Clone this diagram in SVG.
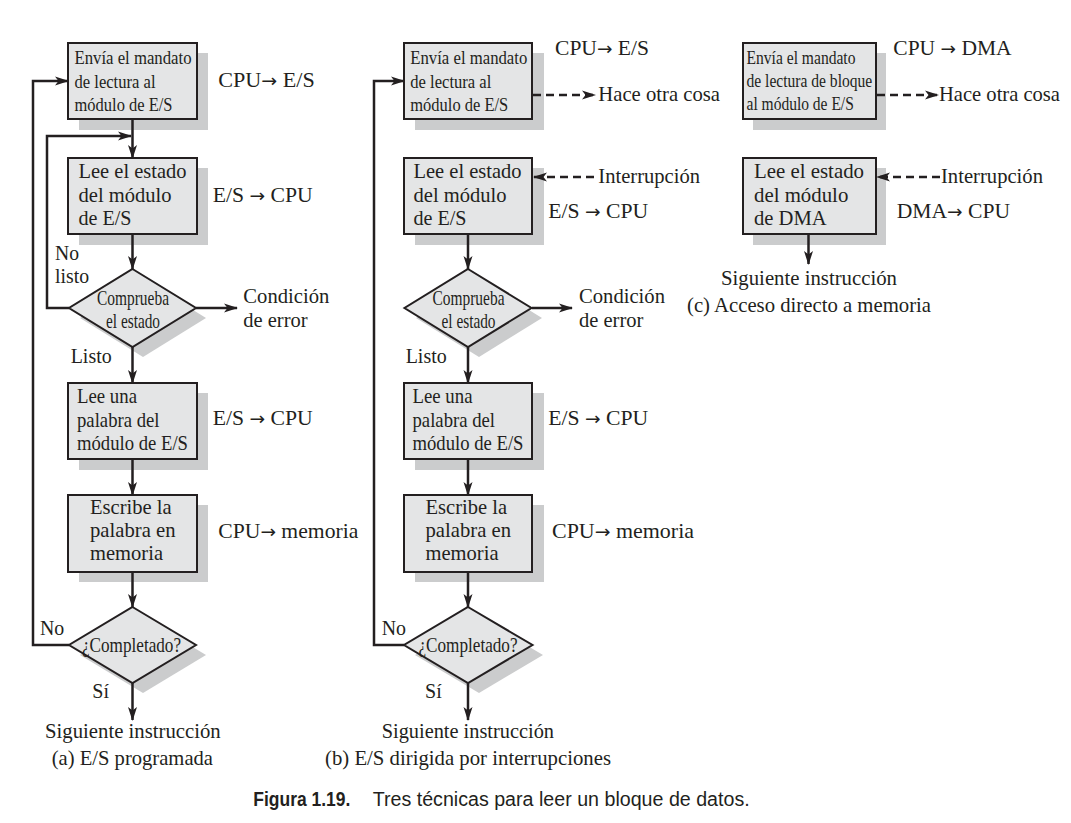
<svg xmlns="http://www.w3.org/2000/svg" width="1071" height="823" viewBox="0 0 1071 823">
<defs>
<style>
text{font-family:"Liberation Serif","Times New Roman",serif;fill:#231f20}
.t{font-size:21px}
.sm{font-size:20px}
.bx{font-size:19px}
.dm{font-size:21px}
.ar{font-family:"DejaVu Sans",sans-serif;font-size:18px}
.cap{font-family:"Liberation Sans",Arial,sans-serif;font-size:20px}
.capb{font-family:"Liberation Sans",Arial,sans-serif;font-size:20px;font-weight:bold}
.box{fill:#e4e5e6;stroke:#231f20;stroke-width:2}
.sh{fill:#cbcccd;stroke:none}
.ln{fill:none;stroke:#231f20;stroke-width:2.5}
.dash{fill:none;stroke:#231f20;stroke-width:2.5;stroke-dasharray:8 5}
</style>
<marker id="ah" markerWidth="14" markerHeight="10" refX="13" refY="5" orient="auto" markerUnits="userSpaceOnUse">
<path d="M0,0.5 L14,5 L0,9.5 L3.5,5 Z" fill="#231f20"/>
</marker>
</defs>
<rect width="1071" height="823" fill="#ffffff"/>

<g id="shadows">
<rect class="sh" x="79" y="53" width="129" height="77"/>
<rect class="sh" x="79" y="168" width="129" height="77"/>
<polygon class="sh" points="143,279 206,318 143,357 80,318"/>
<rect class="sh" x="79" y="393" width="129" height="77"/>
<rect class="sh" x="79" y="505" width="129" height="77"/>
<polygon class="sh" points="143,617 206,655 143,693 80,655"/>

<rect class="sh" x="415" y="53" width="129" height="77"/>
<rect class="sh" x="415" y="168" width="129" height="77"/>
<polygon class="sh" points="479,279 542,318 479,357 416,318"/>
<rect class="sh" x="415" y="393" width="129" height="77"/>
<rect class="sh" x="415" y="505" width="129" height="77"/>
<polygon class="sh" points="479,617 543,655 479,693 415,655"/>

<rect class="sh" x="753" y="53" width="133" height="77"/>
<rect class="sh" x="753" y="168" width="133" height="77"/>
</g>

<g id="connectors">
<line class="ln" x1="132.5" y1="119" x2="132.5" y2="158" marker-end="url(#ah)"/>
<polyline class="ln" points="69,308 47,308 47,136 131,136" marker-end="url(#ah)"/>
<line class="ln" x1="132.5" y1="234" x2="132.5" y2="269" marker-end="url(#ah)"/>
<line class="ln" x1="196" y1="308" x2="237" y2="308" marker-end="url(#ah)"/>
<line class="ln" x1="132.5" y1="347" x2="132.5" y2="383" marker-end="url(#ah)"/>
<line class="ln" x1="132.5" y1="459" x2="132.5" y2="495" marker-end="url(#ah)"/>
<line class="ln" x1="132.5" y1="572" x2="132.5" y2="607" marker-end="url(#ah)"/>
<polyline class="ln" points="69,645 33,645 33,81 68,81" marker-end="url(#ah)"/>
<line class="ln" x1="132.5" y1="683" x2="132.5" y2="720" marker-end="url(#ah)"/>

<line class="ln" x1="468" y1="234" x2="468" y2="269" marker-end="url(#ah)"/>
<line class="ln" x1="532" y1="308" x2="572" y2="308" marker-end="url(#ah)"/>
<line class="ln" x1="468" y1="347" x2="468" y2="383" marker-end="url(#ah)"/>
<line class="ln" x1="468" y1="459" x2="468" y2="495" marker-end="url(#ah)"/>
<line class="ln" x1="468" y1="572" x2="468" y2="607" marker-end="url(#ah)"/>
<polyline class="ln" points="404,645 374,645 374,81 404,81" marker-end="url(#ah)"/>
<line class="ln" x1="468" y1="683" x2="468" y2="720" marker-end="url(#ah)"/>
<line class="dash" x1="533" y1="95" x2="595" y2="95" marker-end="url(#ah)"/>
<line class="dash" x1="594" y1="177" x2="534" y2="177" marker-end="url(#ah)"/>

<line class="ln" x1="808.5" y1="234" x2="808.5" y2="264" marker-end="url(#ah)"/>
<line class="dash" x1="877" y1="95" x2="938" y2="95" marker-end="url(#ah)"/>
<line class="dash" x1="940" y1="177" x2="877" y2="177" marker-end="url(#ah)"/>
</g>

<g id="a-envia">
<rect class="box" x="68" y="43" width="129" height="76"/>
<text class="bx" x="74.5" y="64" textLength="117" lengthAdjust="spacingAndGlyphs">Envía el mandato</text>
<text class="bx" x="74.5" y="87.5" textLength="81" lengthAdjust="spacingAndGlyphs">de lectura al</text>
<text class="bx" x="74.5" y="110.5" textLength="98" lengthAdjust="spacingAndGlyphs">módulo de E/S</text>
</g>
<g id="a-lee-estado">
<rect class="box" x="68" y="158" width="129" height="76"/>
<text class="t" x="78.5" y="178.3" textLength="108" lengthAdjust="spacingAndGlyphs">Lee el estado</text>
<text class="t" x="78.5" y="201.7" textLength="93" lengthAdjust="spacingAndGlyphs">del módulo</text>
<text class="t" x="78.5" y="225" textLength="53" lengthAdjust="spacingAndGlyphs">de E/S</text>
</g>
<g id="a-comprueba">
<polygon class="box" points="132.5,269 196,308 132.5,347 69,308"/>
<text class="dm" x="97" y="305" textLength="72" lengthAdjust="spacingAndGlyphs">Comprueba</text>
<text class="dm" x="106" y="327.5" textLength="54" lengthAdjust="spacingAndGlyphs">el estado</text>
</g>
<g id="a-lee-palabra">
<rect class="box" x="68" y="383" width="129" height="76"/>
<text class="t" x="77" y="403.3" textLength="60" lengthAdjust="spacingAndGlyphs">Lee una</text>
<text class="t" x="77" y="426.7" textLength="82.5" lengthAdjust="spacingAndGlyphs">palabra del</text>
<text class="t" x="77" y="450" textLength="111" lengthAdjust="spacingAndGlyphs">módulo de E/S</text>
</g>
<g id="a-escribe">
<rect class="box" x="68" y="495" width="129" height="77"/>
<text class="t" x="90" y="514" textLength="81.5" lengthAdjust="spacingAndGlyphs">Escribe la</text>
<text class="t" x="90" y="536.7" textLength="85.5" lengthAdjust="spacingAndGlyphs">palabra en</text>
<text class="t" x="90" y="560" textLength="73" lengthAdjust="spacingAndGlyphs">memoria</text>
</g>
<g id="a-completado">
<polygon class="box" points="132.5,607 196,645 132.5,683 69,645"/>
<text class="dm" x="82" y="652" textLength="99" lengthAdjust="spacingAndGlyphs">¿Completado?</text>
</g>
<g id="a-labels">
<text class="t" x="218.3" y="86.7" textLength="96.5" lengthAdjust="spacingAndGlyphs">CPU<tspan class="ar">→</tspan> E/S</text>
<text class="t" x="212.7" y="202" textLength="100" lengthAdjust="spacingAndGlyphs">E/S <tspan class="ar">→</tspan> CPU</text>
<text class="sm" x="55" y="259.5" textLength="24" lengthAdjust="spacingAndGlyphs">No</text>
<text class="sm" x="55" y="283" textLength="34" lengthAdjust="spacingAndGlyphs">listo</text>
<text class="t" x="243.3" y="303.3" textLength="86" lengthAdjust="spacingAndGlyphs">Condición</text>
<text class="t" x="243.3" y="326.7" textLength="64.3" lengthAdjust="spacingAndGlyphs">de error</text>
<text class="t" x="70.7" y="363.3" textLength="41" lengthAdjust="spacingAndGlyphs">Listo</text>
<text class="t" x="212.7" y="425" textLength="100" lengthAdjust="spacingAndGlyphs">E/S <tspan class="ar">→</tspan> CPU</text>
<text class="t" x="218.3" y="538.3" textLength="140" lengthAdjust="spacingAndGlyphs">CPU<tspan class="ar">→</tspan> memoria</text>
<text class="t" x="40" y="635" textLength="24.3" lengthAdjust="spacingAndGlyphs">No</text>
<text class="t" x="92.3" y="698" textLength="16.7" lengthAdjust="spacingAndGlyphs">Sí</text>
<text class="t" x="45" y="738.3" textLength="175.7" lengthAdjust="spacingAndGlyphs">Siguiente instrucción</text>
<text class="t" x="51.7" y="765" textLength="161.3" lengthAdjust="spacingAndGlyphs">(a) E/S programada</text>
</g>

<g id="b-envia">
<rect class="box" x="404" y="43" width="128" height="76"/>
<text class="bx" x="410.3" y="64" textLength="117" lengthAdjust="spacingAndGlyphs">Envía el mandato</text>
<text class="bx" x="410.3" y="87.5" textLength="81" lengthAdjust="spacingAndGlyphs">de lectura al</text>
<text class="bx" x="410.3" y="110.5" textLength="98" lengthAdjust="spacingAndGlyphs">módulo de E/S</text>
</g>
<g id="b-lee-estado">
<rect class="box" x="404" y="158" width="128" height="76"/>
<text class="t" x="413.5" y="178.3" textLength="108" lengthAdjust="spacingAndGlyphs">Lee el estado</text>
<text class="t" x="413.5" y="201.7" textLength="93" lengthAdjust="spacingAndGlyphs">del módulo</text>
<text class="t" x="413.5" y="225" textLength="53" lengthAdjust="spacingAndGlyphs">de E/S</text>
</g>
<g id="b-comprueba">
<polygon class="box" points="468,269 531.5,308 468,347 404.5,308"/>
<text class="dm" x="432.5" y="305" textLength="72" lengthAdjust="spacingAndGlyphs">Comprueba</text>
<text class="dm" x="441.5" y="327.5" textLength="54" lengthAdjust="spacingAndGlyphs">el estado</text>
</g>
<g id="b-lee-palabra">
<rect class="box" x="404" y="383" width="128" height="76"/>
<text class="t" x="412.5" y="403.3" textLength="60" lengthAdjust="spacingAndGlyphs">Lee una</text>
<text class="t" x="412.5" y="426.7" textLength="82.5" lengthAdjust="spacingAndGlyphs">palabra del</text>
<text class="t" x="412.5" y="450" textLength="111" lengthAdjust="spacingAndGlyphs">módulo de E/S</text>
</g>
<g id="b-escribe">
<rect class="box" x="404" y="495" width="128" height="77"/>
<text class="t" x="425.5" y="514" textLength="81.5" lengthAdjust="spacingAndGlyphs">Escribe la</text>
<text class="t" x="425.5" y="536.7" textLength="85.5" lengthAdjust="spacingAndGlyphs">palabra en</text>
<text class="t" x="425.5" y="560" textLength="73" lengthAdjust="spacingAndGlyphs">memoria</text>
</g>
<g id="b-completado">
<polygon class="box" points="468,607 532.5,645 468,683 404,645"/>
<text class="dm" x="418.5" y="652" textLength="99" lengthAdjust="spacingAndGlyphs">¿Completado?</text>
</g>
<g id="b-labels">
<text class="t" x="555" y="55" textLength="94" lengthAdjust="spacingAndGlyphs">CPU<tspan class="ar">→</tspan> E/S</text>
<text class="t" x="598.3" y="100.7" textLength="121.7" lengthAdjust="spacingAndGlyphs">Hace otra cosa</text>
<text class="t" x="598.3" y="183.3" textLength="101.7" lengthAdjust="spacingAndGlyphs">Interrupción</text>
<text class="t" x="548.3" y="218.3" textLength="100" lengthAdjust="spacingAndGlyphs">E/S <tspan class="ar">→</tspan> CPU</text>
<text class="t" x="579" y="303.3" textLength="86" lengthAdjust="spacingAndGlyphs">Condición</text>
<text class="t" x="579" y="326.7" textLength="64.3" lengthAdjust="spacingAndGlyphs">de error</text>
<text class="t" x="405.7" y="363.3" textLength="41" lengthAdjust="spacingAndGlyphs">Listo</text>
<text class="t" x="548.3" y="425" textLength="100" lengthAdjust="spacingAndGlyphs">E/S <tspan class="ar">→</tspan> CPU</text>
<text class="t" x="552" y="538.3" textLength="142" lengthAdjust="spacingAndGlyphs">CPU<tspan class="ar">→</tspan> memoria</text>
<text class="t" x="381.7" y="635" textLength="24.3" lengthAdjust="spacingAndGlyphs">No</text>
<text class="t" x="425" y="698" textLength="16.7" lengthAdjust="spacingAndGlyphs">Sí</text>
<text class="t" x="381.7" y="738" textLength="172.3" lengthAdjust="spacingAndGlyphs">Siguiente instrucción</text>
<text class="t" x="325" y="765" textLength="286" lengthAdjust="spacingAndGlyphs">(b) E/S dirigida por interrupciones</text>
</g>

<g id="c-envia">
<rect class="box" x="743" y="43" width="133" height="76"/>
<text class="bx" x="746.5" y="63.5" textLength="109" lengthAdjust="spacingAndGlyphs">Envía el mandato</text>
<text class="bx" x="746.5" y="87" textLength="125.7" lengthAdjust="spacingAndGlyphs">de lectura de bloque</text>
<text class="bx" x="746.5" y="110" textLength="107.3" lengthAdjust="spacingAndGlyphs">al módulo de E/S</text>
</g>
<g id="c-lee-estado">
<rect class="box" x="743" y="158" width="133" height="76"/>
<text class="t" x="754" y="178.3" textLength="110" lengthAdjust="spacingAndGlyphs">Lee el estado</text>
<text class="t" x="754" y="201.7" textLength="94.3" lengthAdjust="spacingAndGlyphs">del módulo</text>
<text class="t" x="754" y="225" textLength="72.7" lengthAdjust="spacingAndGlyphs">de DMA</text>
</g>
<g id="c-labels">
<text class="t" x="893.3" y="55" textLength="118.3" lengthAdjust="spacingAndGlyphs">CPU <tspan class="ar">→</tspan> DMA</text>
<text class="t" x="939" y="100.7" textLength="121" lengthAdjust="spacingAndGlyphs">Hace otra cosa</text>
<text class="t" x="941" y="183.3" textLength="102" lengthAdjust="spacingAndGlyphs">Interrupción</text>
<text class="t" x="896.7" y="218.3" textLength="113.3" lengthAdjust="spacingAndGlyphs">DMA<tspan class="ar">→</tspan> CPU</text>
<text class="t" x="721" y="285" textLength="176" lengthAdjust="spacingAndGlyphs">Siguiente instrucción</text>
<text class="t" x="687" y="311.7" textLength="244" lengthAdjust="spacingAndGlyphs">(c) Acceso directo a memoria</text>
</g>

<g id="caption">
<text class="capb" x="253.3" y="806" textLength="97" lengthAdjust="spacingAndGlyphs">Figura 1.19.</text>
<text class="cap" x="372.7" y="806" textLength="377" lengthAdjust="spacingAndGlyphs">Tres técnicas para leer un bloque de datos.</text>
</g>
</svg>
